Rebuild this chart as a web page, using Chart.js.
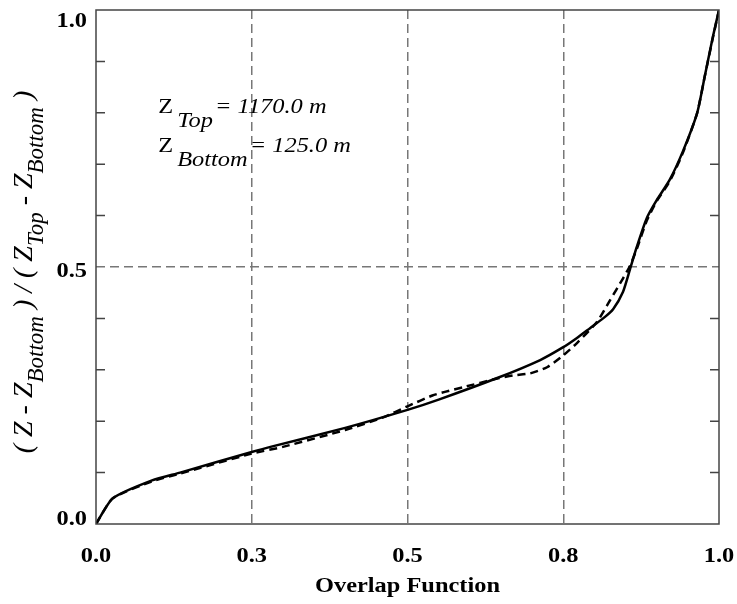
<!DOCTYPE html>
<html>
<head>
<meta charset="utf-8">
<script src="https://cdn.jsdelivr.net/npm/chart.js@4"></script>
<style>
  html, body { margin: 0; padding: 0; background: #fff; }
  #wrap { width: 737px; height: 604px; }
</style>
</head>
<body>
<div id="wrap"><canvas id="overlap"></canvas></div>
<script>
// Solid curve
var solidX = [0, 0.027, 0.09, 0.135, 0.25, 0.28, 0.4, 0.5, 0.55, 0.644, 0.713, 0.75, 0.772, 0.793, 0.814, 0.83, 0.846, 0.857, 0.868, 0.884, 0.9, 0.921, 0.942, 0.965, 0.977, 0.99, 1.0];
var solidY = [0, 0.05, 0.085, 0.10, 0.14, 0.15, 0.187, 0.222, 0.242, 0.284, 0.319, 0.344, 0.362, 0.381, 0.400, 0.418, 0.452, 0.495, 0.539, 0.595, 0.63, 0.67, 0.725, 0.80, 0.87, 0.947, 1.0];

// Dashed curve
var dashedX = [0, 0.027, 0.09, 0.135, 0.25, 0.3, 0.4, 0.46, 0.5, 0.54, 0.56, 0.589, 0.644, 0.669, 0.697, 0.724, 0.75, 0.772, 0.804, 0.825, 0.846, 0.857, 0.868, 0.884, 0.9, 0.921, 0.942, 0.965, 0.977, 0.99, 1.0];
var dashedY = [0, 0.05, 0.083, 0.098, 0.137, 0.15, 0.183, 0.207, 0.229, 0.25, 0.257, 0.266, 0.283, 0.289, 0.293, 0.305, 0.328, 0.352, 0.393, 0.435, 0.478, 0.502, 0.535, 0.59, 0.628, 0.667, 0.722, 0.8, 0.87, 0.945, 1.0];

// Tick labels
var xTickValues = [0, 0.25, 0.5, 0.75, 1.0];
var xTickLabels = ['0.0', '0.3', '0.5', '0.8', '1.0'];
var yTickValues = [0, 0.5, 1.0];
var yTickLabels = ['0.0', '0.5', '1.0'];
var yMinorTicks = [0.1, 0.2, 0.3, 0.4, 0.6, 0.7, 0.8, 0.9];

// Annotation text
var annoLines = [
    { main: 'Z', sub: 'Top', rest: '= 1170.0 m', x: 0.1, y: 0.8 },
    { main: 'Z', sub: 'Bottom', rest: '= 125.0 m', x: 0.1, y: 0.724 }
];

function toPoints(xs, ys) {
    return xs.map(function(x, i) { return { x: x, y: ys[i] }; });
}

var SERIF = '"Liberation Serif", "Times New Roman", serif';
var SX = 1.22; // text in the original is a bit wide

// draw text stretched horizontally, returns its drawn width
function wideText(c, text, x, y, font, align) {
    c.save();
    c.font = font;
    var w = c.measureText(text).width * SX;
    var left = align === 'center' ? x - w / 2 : (align === 'right' ? x - w : x);
    c.translate(left, y);
    c.scale(SX, 1);
    c.textAlign = 'left';
    c.fillText(text, 0, 0);
    c.restore();
    return w;
}

// frame, minor ticks, labels, annotation and y title
var extras = {
    id: 'extras',
    afterDraw: function(chart) {
        var c = chart.ctx, a = chart.chartArea;
        var xs = chart.scales.x, ys = chart.scales.y;
        c.save();

        // frame
        c.strokeStyle = '#444';
        c.lineWidth = 1.5;
        c.strokeRect(a.left, a.top, a.right - a.left, a.bottom - a.top);

        // inward minor ticks on left and right
        c.beginPath();
        yMinorTicks.forEach(function(v) {
            var py = ys.getPixelForValue(v);
            c.moveTo(a.left, py); c.lineTo(a.left + 9, py);
            c.moveTo(a.right, py); c.lineTo(a.right - 9, py);
        });
        c.stroke();

        c.fillStyle = '#000';
        c.textBaseline = 'alphabetic';
        var tickFont = 'bold 20px ' + SERIF;

        // x tick labels
        xTickValues.forEach(function(v, i) {
            wideText(c, xTickLabels[i], xs.getPixelForValue(v), a.bottom + 38, tickFont, 'center');
        });
        // x title
        wideText(c, 'Overlap Function', (a.left + a.right) / 2, a.bottom + 68, tickFont, 'center');

        // y tick labels
        yTickValues.forEach(function(v, i) {
            var py = ys.getPixelForValue(v) + 10;
            py = Math.min(Math.max(py, a.top + 17), a.bottom + 1);
            wideText(c, yTickLabels[i], a.left - 9, py, tickFont, 'right');
        });

        // annotation
        annoLines.forEach(function(l) {
            var px = xs.getPixelForValue(l.x), py = ys.getPixelForValue(l.y);
            px += wideText(c, l.main, px, py, '20px ' + SERIF, 'left') + 4;
            px += wideText(c, l.sub, px, py + 14, 'italic 20px ' + SERIF, 'left');
            wideText(c, l.rest, px + 2, py, 'italic 20px ' + SERIF, 'left');
        });

        // y axis title with subscripts
        var parts = [
            ['( Z - Z', false], ['Bottom', true], [' ) / ( Z', false], ['Top', true],
            [' - Z', false], ['Bottom', true], [' )', false]
        ];
        var mainFont = 'italic 28px ' + SERIF, subFont = 'italic 23px ' + SERIF;
        var total = 0;
        parts.forEach(function(p) {
            c.font = p[1] ? subFont : mainFont;
            total += c.measureText(p[0]).width;
        });
        c.translate(32, 272);
        c.rotate(-Math.PI / 2);
        c.textAlign = 'left';
        var tx = -total / 2;
        parts.forEach(function(p) {
            c.font = p[1] ? subFont : mainFont;
            c.fillText(p[0], tx, p[1] ? 11 : 0);
            tx += c.measureText(p[0]).width;
        });
        c.restore();
    }
};

var ctx = document.getElementById('overlap').getContext('2d');

var overlapChart = new Chart(ctx, {
    type: 'scatter',
    data: {
        datasets: [
            {
                label: 'solid',
                data: toPoints(solidX, solidY),
                showLine: true,
                borderColor: '#000',
                borderWidth: 2.5,
                pointRadius: 0,
                tension: 0.2
            },
            {
                label: 'dashed',
                data: toPoints(dashedX, dashedY),
                showLine: true,
                borderColor: '#000',
                borderWidth: 2.5,
                borderDash: [8, 5],
                pointRadius: 0,
                tension: 0.2
            }
        ]
    },
    options: {
        responsive: true,
        maintainAspectRatio: false,
        animation: false,
        layout: { padding: { left: 0, top: 10, right: 18, bottom: 0 } },
        plugins: {
            legend: { display: false },
            tooltip: { enabled: false }
        },
        scales: {
            x: {
                type: 'linear',
                min: 0,
                max: 1,
                afterFit: function(s) { s.height = 80; s.paddingLeft = 0; s.paddingRight = 0; },
                afterBuildTicks: function(s) {
                    s.ticks = xTickValues.map(function(v) { return { value: v }; });
                },
                border: { display: false, dash: [9, 5] },
                grid: {
                    drawTicks: false,
                    color: function(c) {
                        var v = c.tick ? c.tick.value : -1;
                        return (v > 0.01 && v < 0.99) ? '#777' : 'rgba(0,0,0,0)';
                    },
                    lineWidth: 1.5
                },
                ticks: { display: false }
            },
            y: {
                type: 'linear',
                min: 0,
                max: 1,
                afterFit: function(s) { s.width = 96; s.paddingTop = 0; s.paddingBottom = 0; },
                border: { display: false, dash: [9, 5] },
                grid: {
                    drawTicks: false,
                    color: function(c) {
                        var v = c.tick ? c.tick.value : -1;
                        return Math.abs(v - 0.5) < 1e-6 ? '#777' : 'rgba(0,0,0,0)';
                    },
                    lineWidth: 1.5
                },
                ticks: { display: false, stepSize: 0.5 }
            }
        }
    },
    plugins: [extras]
});
</script>
</body>
</html>
